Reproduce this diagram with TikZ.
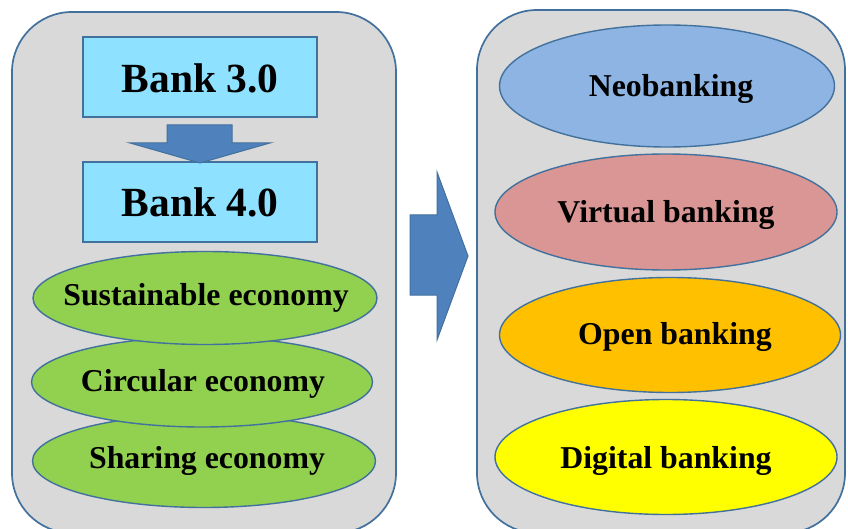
\documentclass[tikz,border=0pt]{standalone}
\usepackage{fontspec}
\setmainfont{Liberation Serif}
\usetikzlibrary{shapes.geometric}
\definecolor{edgeblue}{HTML}{41719C}
\definecolor{panelgrey}{HTML}{D9D9D9}
\definecolor{boxcyan}{HTML}{8EE1FF}
\definecolor{arrowblue}{HTML}{4F81BD}
\definecolor{leafgreen}{HTML}{92D050}
\definecolor{neoblue}{HTML}{8DB4E2}
\definecolor{virtred}{HTML}{DA9694}
\definecolor{openorange}{HTML}{FFC000}
\definecolor{digyellow}{HTML}{FFFF00}
\tikzset{
  panel/.style={draw=edgeblue,fill=panelgrey,line width=1.7pt,rounded corners=60pt},
  bankbox/.style={draw=edgeblue,fill=boxcyan,line width=1.4pt,minimum width=234pt,minimum height=80pt,inner sep=0pt},
  bigarrow/.style={draw=edgeblue,fill=arrowblue,line width=1pt,line join=miter},
  oval/.style={ellipse,draw=edgeblue,line width=1.4pt,inner sep=0pt},
  bigtxt/.style={font=\bfseries\fontsize{41.5}{48}\selectfont,anchor=base,inner sep=0pt},
  midtxt/.style={font=\bfseries\fontsize{31.8}{37}\selectfont,anchor=base,inner sep=0pt}
}
\begin{document}
\begin{tikzpicture}[x=1pt,y=-1pt]
\clip (0,0) rectangle (848,529);
\fill[white] (0,0) rectangle (848,529);
% panels
\draw[panel] (12,12) rectangle (396,533);
\draw[panel] (477,10) rectangle (845,533);
% big right arrow
\draw[bigarrow] (410,215) -- (437,215) -- (437,172) -- (468,256) -- (437,340) -- (437,295) -- (410,295) -- cycle;
% bank boxes
\node[bankbox] (b3) at (200,77) {};
\node[bankbox] (b4) at (200,202) {};
\node[bigtxt] (b3t) at (200,93) {Bank 3.0};
\node[bigtxt] (b4t) at (200,217) {Bank 4.0};
% down arrow
\draw[bigarrow] (167,125) -- (232,125) -- (232,143) -- (270,143) -- (200,163) -- (130,143) -- (167,143) -- cycle;
% green ovals (bottom first)
\node[oval,fill=leafgreen,minimum width=343pt,minimum height=93pt] (share) at (204,461) {};
\node[oval,fill=leafgreen,minimum width=341pt,minimum height=90pt] (circ) at (202,382) {};
\node[oval,fill=leafgreen,minimum width=344pt,minimum height=93pt] (sust) at (205,298) {};
\node[midtxt] (sustt) at (206,305) {Sustainable economy};
\node[midtxt] (circt) at (203,391) {Circular economy};
\node[midtxt] (sharet) at (207,468) {Sharing economy};
% right ovals
\node[oval,fill=neoblue,minimum width=335pt,minimum height=122pt] (neo) at (667,86) {};
\node[oval,fill=virtred,minimum width=342pt,minimum height=116pt] (virt) at (666,212) {};
\node[oval,fill=openorange,minimum width=341pt,minimum height=115pt] (open) at (670,335) {};
\node[oval,fill=digyellow,minimum width=342pt,minimum height=115pt] (dig) at (666,457) {};
\node[midtxt] (neot) at (671,97) {Neobanking};
\node[midtxt] (virtt) at (666,223) {Virtual banking};
\node[midtxt] (opent) at (675,344) {Open banking};
\node[midtxt] (digt) at (666,468) {Digital banking};
\end{tikzpicture}
\end{document}
